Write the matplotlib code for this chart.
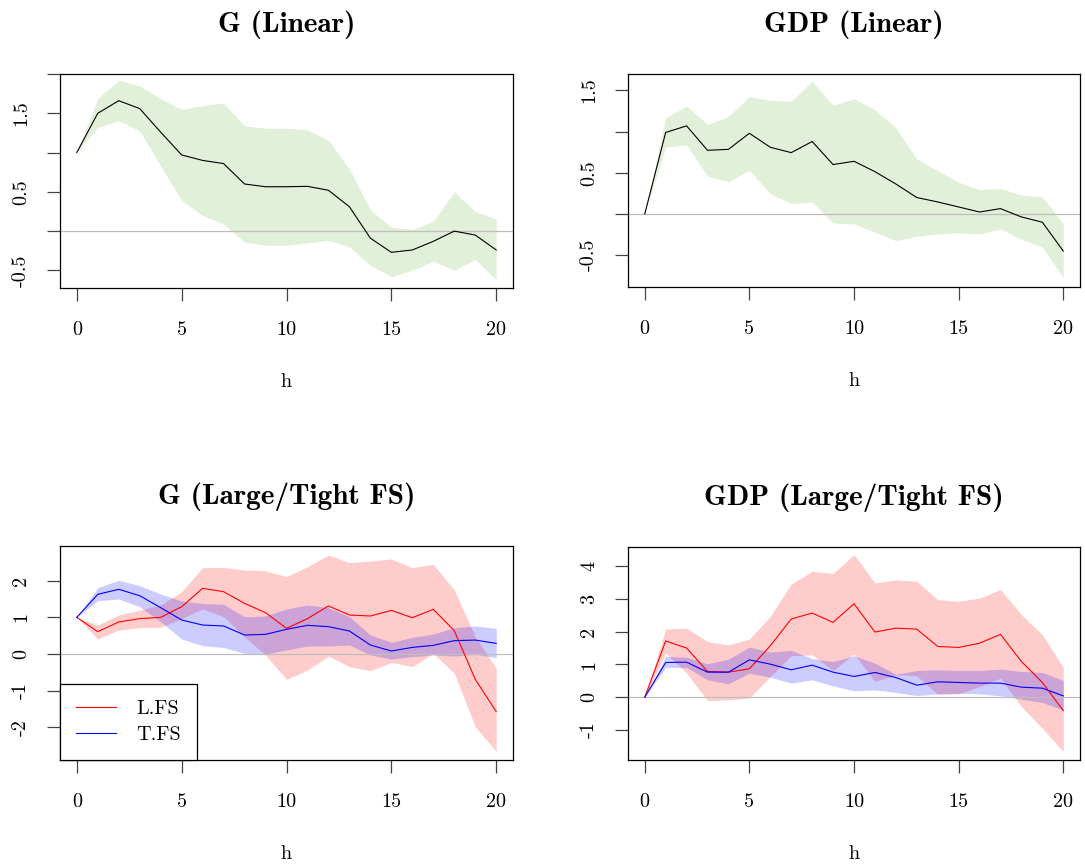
import numpy as np
import matplotlib
matplotlib.use("Agg")
from matplotlib import pyplot as plt

# horizon
h = np.arange(21)

# G (Linear)
g_lin = [1.0, 1.50, 1.66, 1.56, 1.26, 0.97, 0.90, 0.86, 0.60, 0.565, 0.565,
         0.57, 0.52, 0.31, -0.09, -0.27, -0.24, -0.13, 0.0, -0.05, -0.24]
g_lin_up = [1.0, 1.69, 1.92, 1.85, 1.685, 1.55, 1.60, 1.63, 1.34, 1.31, 1.31,
            1.29, 1.155, 0.79, 0.27, 0.05, 0.02, 0.125, 0.50, 0.25, 0.155]
g_lin_lo = [1.0, 1.32, 1.405, 1.276, 0.83, 0.39, 0.20, 0.09, -0.14, -0.18, -0.18,
            -0.15, -0.12, -0.20, -0.435, -0.58, -0.50, -0.38, -0.50, -0.36, -0.62]

# GDP (Linear)
y_lin = [0.0, 0.99, 1.07, 0.773, 0.785, 0.98, 0.81, 0.745, 0.88, 0.60, 0.64,
         0.514, 0.364, 0.20, 0.146, 0.085, 0.024, 0.065, -0.036, -0.10, -0.45]
y_lin_up = [0.0, 1.17, 1.31, 1.09, 1.186, 1.425, 1.38, 1.37, 1.61, 1.32, 1.40,
            1.267, 1.045, 0.668, 0.526, 0.385, 0.296, 0.31, 0.23, 0.206, -0.117]
y_lin_lo = [0.0, 0.81, 0.84, 0.457, 0.393, 0.53, 0.247, 0.126, 0.146, -0.11, -0.12,
            -0.22, -0.324, -0.27, -0.243, -0.23, -0.243, -0.18, -0.31, -0.40, -0.777]

# G (Large/Tight FS)
g_L = [1.0, 0.61, 0.873, 0.964, 1.0, 1.29, 1.79, 1.70, 1.38, 1.127, 0.70,
       0.964, 1.31, 1.064, 1.036, 1.19, 0.99, 1.218, 0.636, -0.69, -1.573]
g_L_up = [1.0, 0.79, 1.064, 1.2, 1.336, 1.70, 2.354, 2.36, 2.29, 2.27, 2.11,
          2.38, 2.70, 2.49, 2.536, 2.59, 2.354, 2.445, 1.745, 0.47, -0.39]
g_L_lo = [1.0, 0.41, 0.655, 0.72, 0.727, 0.97, 1.227, 1.018, 0.47, -0.027, -0.69,
          -0.436, -0.055, -0.345, -0.455, -0.227, -0.345, 0.018, -0.527, -1.98, -2.66]
g_T = [1.0, 1.627, 1.764, 1.59, 1.264, 0.927, 0.79, 0.764, 0.518, 0.536, 0.673,
       0.782, 0.745, 0.627, 0.245, 0.082, 0.18, 0.236, 0.364, 0.38, 0.29]
g_T_up = [1.0, 1.81, 2.01, 1.864, 1.636, 1.445, 1.38, 1.355, 1.018, 1.036, 1.227,
          1.336, 1.264, 1.018, 0.518, 0.318, 0.455, 0.545, 0.718, 0.764, 0.70]
g_T_lo = [1.0, 1.455, 1.50, 1.29, 0.882, 0.41, 0.227, 0.18, 0.018, 0.0, 0.109,
          0.218, 0.218, 0.245, -0.027, -0.136, -0.073, -0.027, -0.055, -0.01, -0.1]

# GDP (Large/Tight FS)
y_L = [0.0, 1.72, 1.50, 0.786, 0.765, 0.867, 1.57, 2.39, 2.57, 2.286, 2.857,
       1.99, 2.11, 2.08, 1.55, 1.52, 1.65, 1.92, 1.09, 0.45, -0.41]
y_L_up = [0.0, 2.08, 2.11, 1.70, 1.60, 1.776, 2.47, 3.46, 3.85, 3.78, 4.357,
          3.49, 3.59, 3.54, 2.98, 2.93, 3.03, 3.29, 2.52, 1.91, 0.91]
y_L_lo = [0.0, 1.35, 0.735, -0.11, -0.08, -0.03, 0.63, 1.265, 1.296, 0.816, 1.327,
          0.48, 0.684, 0.653, 0.09, 0.10, 0.327, 0.58, -0.286, -0.95, -1.66]
y_T = [0.0, 1.06, 1.07, 0.765, 0.765, 1.14, 1.01, 0.837, 0.98, 0.765, 0.633,
       0.755, 0.60, 0.367, 0.47, 0.45, 0.43, 0.43, 0.306, 0.275, 0.04]
y_T_up = [0.0, 1.245, 1.22, 1.02, 1.163, 1.53, 1.38, 1.43, 1.18, 1.09, 1.265,
          1.04, 0.70, 0.816, 0.837, 0.816, 0.816, 0.857, 0.786, 0.755, 0.51]
y_T_lo = [0.0, 0.91, 0.91, 0.53, 0.41, 0.735, 0.61, 0.43, 0.53, 0.347, 0.194,
          0.224, 0.143, 0.05, 0.10, 0.12, 0.10, 0.04, -0.06, -0.163, -0.39]

plt.rcParams['font.family'] = 'cmr10'
plt.rcParams['axes.linewidth'] = 0.9

W, H = 1085, 867
fig = plt.figure(figsize=(W / 100, H / 100), dpi=100)

def make_ax(x0, x1, y0, y1):
    return fig.add_axes([x0 / W, 1 - y1 / H, (x1 - x0) / W, (y1 - y0) / H])

def style(ax, title, ticks, labels):
    ax.set_title(title, family='cmb10', fontsize=21, pad=30)
    ax.set_xlim(-0.8, 20.8)
    ax.set_xticks([0, 5, 10, 15, 20])
    ax.set_xticklabels(['0', '5', '10', '15', '20'])
    ax.set_yticks(ticks)
    ax.set_yticklabels(labels, rotation=90, va='center')
    ax.tick_params(length=9.5, width=0.9, color='#444444', labelsize=14.5)
    ax.tick_params(axis='x', pad=14)
    ax.tick_params(axis='y', pad=12)
    ax.set_xlabel('h', fontsize=14.5)
    ax.xaxis.set_label_coords(0.5, -85 / 214)
    ax.axhline(0, color='#bebebe', lw=0.9, zorder=1)

green = '#e2f0d9'

# top left
ax = make_ax(60, 513, 74, 288)
ax.fill_between(h, g_lin_lo, g_lin_up, color=green, lw=0, zorder=0)
ax.plot(h, g_lin, color='black', lw=0.8, zorder=3)
ax.set_ylim(-0.724, 2.0)
style(ax, 'G (Linear)', [-0.5, 0, 0.5, 1.0, 1.5, 2.0],
      ['-0.5', '', '0.5', '', '1.5', ''])

# top right
ax = make_ax(628, 1080, 74, 287)
ax.fill_between(h, y_lin_lo, y_lin_up, color=green, lw=0, zorder=0)
ax.plot(h, y_lin, color='black', lw=0.8, zorder=3)
ax.set_ylim(-0.887, 1.70)
style(ax, 'GDP (Linear)', [-0.5, 0, 0.5, 1.0, 1.5],
      ['-0.5', '', '0.5', '', '1.5'])

# bottom left
ax = make_ax(60, 513, 546, 760)
ax.fill_between(h, g_L_lo, g_L_up, color='red', alpha=0.2, lw=0, zorder=0)
ax.fill_between(h, g_T_lo, g_T_up, color='blue', alpha=0.2, lw=0, zorder=0)
ax.plot(h, g_L, color='red', lw=0.8, zorder=3, label='L.FS')
ax.plot(h, g_T, color='blue', lw=0.8, zorder=3, label='T.FS')
ax.set_ylim(-2.89, 2.945)
style(ax, 'G (Large/Tight FS)', [-2, -1, 0, 1, 2], ['-2', '-1', '0', '1', '2'])
leg = ax.legend(loc='lower left', borderaxespad=0, fancybox=False,
                edgecolor='black', framealpha=1, fontsize=14.5,
                handlelength=2.0, handletextpad=1.0, labelspacing=0.4,
                borderpad=0.8)
leg.get_frame().set_linewidth(0.9)

# bottom right
ax = make_ax(628, 1080, 547, 760)
ax.fill_between(h, y_L_lo, y_L_up, color='red', alpha=0.2, lw=0, zorder=0)
ax.fill_between(h, y_T_lo, y_T_up, color='blue', alpha=0.2, lw=0, zorder=0)
ax.plot(h, y_L, color='red', lw=0.8, zorder=3)
ax.plot(h, y_T, color='blue', lw=0.8, zorder=3)
ax.set_ylim(-1.92, 4.59)
style(ax, 'GDP (Large/Tight FS)', [-1, 0, 1, 2, 3, 4],
      ['-1', '0', '1', '2', '3', '4'])

fig.savefig('out.png', dpi=100)
